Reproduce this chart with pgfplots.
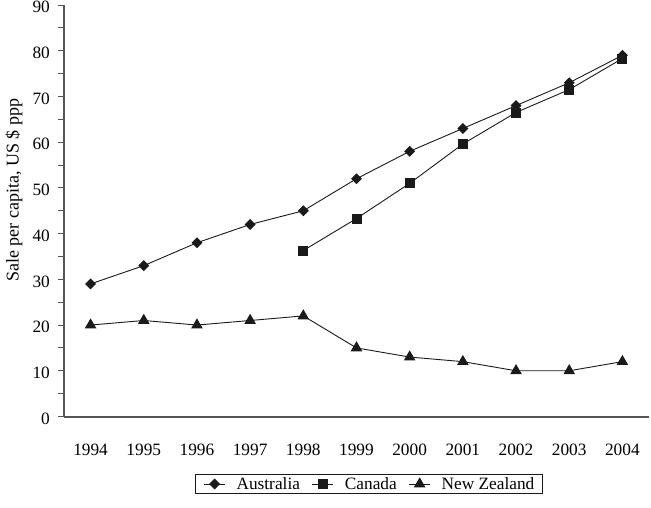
\documentclass[border=0pt]{standalone}
\usepackage{pgfplots}
\pgfplotsset{compat=1.18}
\usepackage{fontspec}
\setmainfont{Liberation Serif}
\definecolor{axisgray}{HTML}{555555}
\definecolor{ink}{HTML}{1A1A1A}
\begin{document}
\begin{tikzpicture}
\useasboundingbox (0,0) rectangle (651pt,507pt);
\begin{axis}[
  at={(64pt,90.5pt)}, anchor=south west,
  scale only axis, width=585pt, height=411.5pt,
  xmin=1993.5, xmax=2004.5, ymin=0, ymax=90,
  axis lines=left,
  axis line style={-, draw=axisgray, line width=2pt},
  xtick={1994,...,2004}, ytick={0,10,...,90}, minor y tick num=1,
  xtick style={draw=none},
  ytick style={draw=axisgray, line width=1pt},
  tick align=outside, major tick length=6pt, minor tick length=6pt,
  /pgf/number format/assume math mode=true,
  tick label style={font=\fontsize{17.3}{20}\selectfont},
  x tick label style={/pgf/number format/1000 sep=, anchor=base, yshift=-32.5pt},
  y tick label style={anchor=east, inner sep=0pt, xshift=-8pt, yshift=-2pt},
  ylabel={Sale per capita, US \$ ppp},
  ylabel style={at={(axis description cs:-0.0855,0.55)}, anchor=center, font=\fontsize{18}{21}\selectfont},
  legend columns=3,
  legend style={at={(axis description cs:0.5214,-0.164)}, anchor=center,
    draw=ink, line width=0.8pt, font=\fontsize{17.3}{20}\selectfont,
    inner xsep=8.5pt, inner ysep=3pt,
    nodes={inner sep=0pt},
    /tikz/every odd column/.append style={column sep=11pt},
    /tikz/every even column/.append style={column sep=12pt}},
  legend image code/.code={\draw[mark repeat=2,mark phase=2] plot coordinates {(0pt,0pt) (10.5pt,0pt) (21pt,0pt)};},
]
\addplot[color=ink, line width=0.9pt, mark=square*, mark size=3.4pt, mark options={rotate=45, fill=ink, draw=ink, solid}] coordinates {
(1994,29) (1995,33) (1996,38) (1997,42) (1998,45) (1999,52)
(2000,58) (2001,63) (2002,68) (2003,73) (2004,79)
};
\addplot[color=ink, line width=0.9pt, mark=square*, mark size=4.5pt, mark options={fill=ink, draw=ink, solid}] coordinates {
(1998,36.3) (1999,43.3) (2000,51) (2001,59.6) (2002,66.5) (2003,71.5) (2004,78.3)
};
\addplot[color=ink, line width=0.9pt, mark=triangle*, mark size=5.8pt, mark options={fill=ink, draw=ink, solid}] coordinates {
(1994,20) (1995,21) (1996,20) (1997,21) (1998,22) (1999,15)
(2000,13) (2001,12) (2002,10) (2003,10) (2004,12)
};
\legend{Australia, Canada, New Zealand}
\end{axis}
\end{tikzpicture}
\end{document}
